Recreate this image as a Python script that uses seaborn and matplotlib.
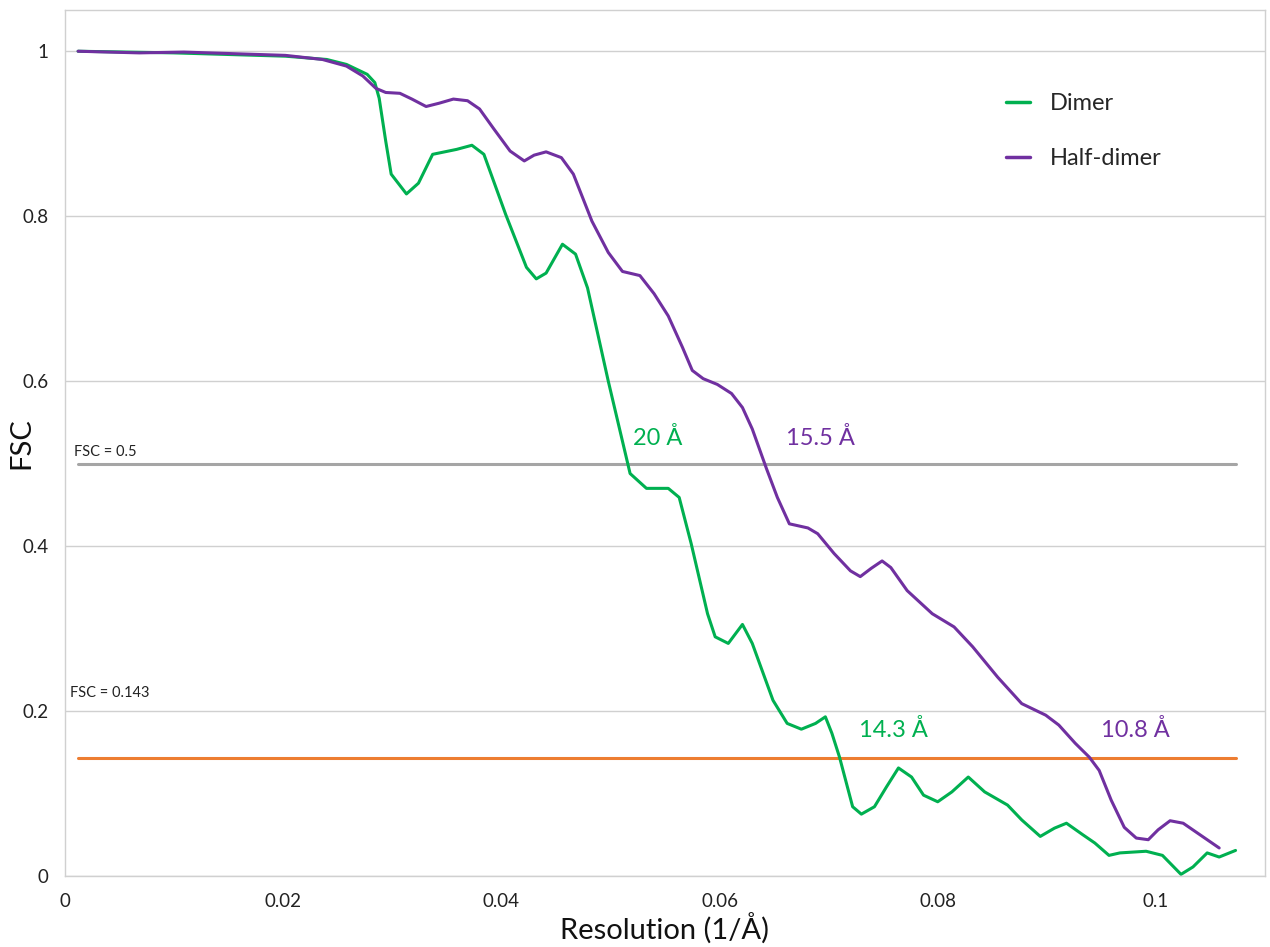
import numpy as np
import pandas as pd
import matplotlib
matplotlib.use("Agg")
import matplotlib.pyplot as plt
import seaborn as sns

# ---- data ----
dimer_x = [0.0012, 0.0100, 0.0202, 0.0240, 0.0258, 0.0277, 0.0284, 0.0288, 0.0294, 0.0299,
           0.0313, 0.0324, 0.0337, 0.0359, 0.0373, 0.0384, 0.0404, 0.0423, 0.0432, 0.0441,
           0.0456, 0.0468, 0.0479, 0.0498, 0.0513, 0.0518, 0.0533, 0.0553, 0.0563, 0.0574,
           0.0589, 0.0596, 0.0608, 0.0621, 0.0630, 0.0649, 0.0662, 0.0675, 0.0688, 0.0697,
           0.0703, 0.0710, 0.0722, 0.0730, 0.0742, 0.0753, 0.0764, 0.0776, 0.0787, 0.0800,
           0.0813, 0.0828, 0.0843, 0.0864, 0.0877, 0.0894, 0.0907, 0.0918, 0.0933, 0.0944,
           0.0957, 0.0967, 0.0991, 0.1006, 0.1023, 0.1034, 0.1047, 0.1058, 0.1073]
dimer_y = [1.000, 0.998, 0.994, 0.990, 0.984, 0.972, 0.962, 0.943, 0.891, 0.851,
           0.827, 0.840, 0.875, 0.881, 0.886, 0.875, 0.802, 0.738, 0.724, 0.731,
           0.766, 0.754, 0.713, 0.600, 0.516, 0.488, 0.470, 0.470, 0.459, 0.403,
           0.318, 0.290, 0.282, 0.305, 0.282, 0.213, 0.185, 0.178, 0.185, 0.193,
           0.173, 0.144, 0.084, 0.075, 0.084, 0.108, 0.131, 0.120, 0.098, 0.090,
           0.102, 0.120, 0.102, 0.086, 0.068, 0.048, 0.058, 0.064, 0.050, 0.040,
           0.025, 0.028, 0.030, 0.025, 0.002, 0.011, 0.028, 0.023, 0.031]

half_x = [0.0012, 0.0068, 0.0109, 0.0202, 0.0236, 0.0258, 0.0273, 0.0285, 0.0294, 0.0307,
          0.0318, 0.0331, 0.0343, 0.0356, 0.0369, 0.0380, 0.0393, 0.0408, 0.0421, 0.0430,
          0.0441, 0.0455, 0.0466, 0.0483, 0.0498, 0.0511, 0.0527, 0.0540, 0.0553, 0.0566,
          0.0575, 0.0585, 0.0598, 0.0611, 0.0621, 0.0630, 0.0643, 0.0653, 0.0664, 0.0681,
          0.0690, 0.0705, 0.0720, 0.0729, 0.0739, 0.0749, 0.0757, 0.0772, 0.0795, 0.0815,
          0.0832, 0.0855, 0.0877, 0.0899, 0.0911, 0.0926, 0.0939, 0.0948, 0.0959, 0.0971,
          0.0982, 0.0993, 0.1002, 0.1013, 0.1025, 0.1058]
half_y = [1.000, 0.998, 0.999, 0.995, 0.990, 0.982, 0.970, 0.955, 0.950, 0.949,
          0.942, 0.933, 0.937, 0.942, 0.940, 0.930, 0.906, 0.879, 0.867, 0.874,
          0.878, 0.871, 0.851, 0.794, 0.756, 0.733, 0.728, 0.706, 0.679, 0.641,
          0.613, 0.603, 0.596, 0.585, 0.568, 0.542, 0.494, 0.459, 0.427, 0.422,
          0.415, 0.391, 0.370, 0.363, 0.373, 0.382, 0.374, 0.346, 0.318, 0.302,
          0.278, 0.241, 0.209, 0.195, 0.183, 0.161, 0.144, 0.128, 0.092, 0.059,
          0.046, 0.044, 0.056, 0.067, 0.064, 0.034]

series_names = ["Dimer", "Half-dimer"]
threshold_x = [0.0012, 0.1073]
threshold_05 = 0.5
threshold_0143 = 0.143
annot_text = ["20 Å", "15.5 Å", "14.3 Å", "10.8 Å"]
annot_x = [0.0521, 0.0661, 0.0728, 0.0950]
annot_y = [0.531, 0.531, 0.177, 0.177]
x_ticks = [0, 0.02, 0.04, 0.06, 0.08, 0.1]
x_ticklabels = ["0", "0.02", "0.04", "0.06", "0.08", "0.1"]
y_ticks = [0, 0.2, 0.4, 0.6, 0.8, 1.0]
y_ticklabels = ["0", "0.2", "0.4", "0.6", "0.8", "1"]

GREEN = "#00B050"
PURPLE = "#7030A0"
GRAY = "#A5A5A5"
ORANGE = "#ED7D31"

df = pd.concat([
    pd.DataFrame({"x": dimer_x, "y": dimer_y, "series": series_names[0]}),
    pd.DataFrame({"x": half_x, "y": half_y, "series": series_names[1]}),
], ignore_index=True)

sns.set_theme(style="white")
plt.rcParams["font.family"] = ["Lato", "DejaVu Sans"]

fig = plt.figure(figsize=(12.7, 9.47), dpi=100)
ax = fig.add_axes([65 / 1270, 1 - 876 / 947, 1200 / 1270, 866 / 947])

# reference lines
sns.lineplot(x=threshold_x, y=[threshold_05] * 2, ax=ax, color=GRAY, lw=2.2, legend=False)
sns.lineplot(x=threshold_x, y=[threshold_0143] * 2, ax=ax, color=ORANGE, lw=2.2, legend=False)

sns.lineplot(data=df, x="x", y="y", hue="series", palette=[GREEN, PURPLE],
             ax=ax, lw=2.2, sort=False, estimator=None)

ax.set_xlim(0, 0.11)
ax.set_ylim(0, 1.05)
ax.set_xticks(x_ticks)
ax.set_xticklabels(x_ticklabels, fontsize=13.5)
ax.set_yticks(y_ticks)
ax.set_yticklabels(y_ticklabels, fontsize=13.5)
ax.tick_params(axis="both", length=0, pad=12, colors="#222222")
ax.grid(axis="y", color="#D0D0D0", lw=1)
ax.grid(axis="x", visible=False)
for s in ax.spines.values():
    s.set_color("#D0D0D0")
    s.set_linewidth(1)

ax.set_xlabel("Resolution (1/Å)", fontsize=21, color="#111111", va="center")
ax.set_ylabel("FSC", fontsize=21, color="#111111", va="center")
ax.xaxis.set_label_coords(0.5, -0.060)
ax.yaxis.set_label_coords(-0.036, 0.5)

ax.text(0.0008, 0.505, "FSC = 0.5", fontsize=10.5, color="#222222", va="bottom", ha="left")
ax.text(0.0005, 0.213, "FSC = 0.143", fontsize=10.5, color="#222222", va="bottom", ha="left")

colors = [GREEN, PURPLE, GREEN, PURPLE]
for t, xx, yy, c in zip(annot_text, annot_x, annot_y, colors):
    ax.text(xx, yy, t, fontsize=17, color=c, va="center", ha="left")

handles, labels = ax.get_legend_handles_labels()
leg = ax.legend(handles[-2:], labels[-2:], loc="upper left",
                bbox_to_anchor=(1006 / 1270, 1 - 93 / 947), bbox_transform=fig.transFigure,
                frameon=False, fontsize=17, handlelength=1.0, handletextpad=0.85,
                labelspacing=1.45, borderpad=0, borderaxespad=0)
for h in leg.get_lines():
    h.set_linewidth(2.5)

fig.savefig("out.png", dpi=100)
